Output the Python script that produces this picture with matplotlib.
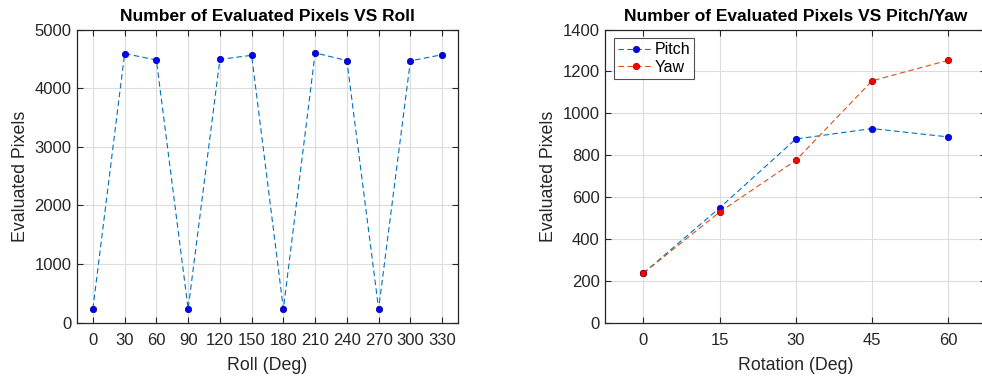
import matplotlib
matplotlib.use("Agg")
import matplotlib.pyplot as plt

plt.rcParams['font.family'] = ['Liberation Sans', 'DejaVu Sans']

roll_deg = [0, 30, 60, 90, 120, 150, 180, 210, 240, 270, 300, 330]
roll_pixels = [235, 4590, 4480, 235, 4490, 4560, 235, 4600, 4470, 235, 4465, 4570]

rot_deg = [0, 15, 30, 45, 60]
pitch_pixels = [236, 548, 877, 927, 887]
yaw_pixels = [236, 528, 775, 1155, 1253]

W, H = 982, 376
fig = plt.figure(figsize=(W / 100, H / 100), dpi=100)

grid_kw = dict(color='#dcdcdc', linewidth=0.8)
tick_color = '#262626'


def style(ax):
    ax.grid(True, **grid_kw)
    ax.set_axisbelow(True)
    for s in ax.spines.values():
        s.set_color('#262626')
        s.set_linewidth(0.9)
    ax.tick_params(direction='in', top=True, right=True, length=4,
                   labelsize=12, colors=tick_color, width=0.8)
    ax.tick_params(axis='x', pad=7.5)
    ax.tick_params(axis='y', pad=4)
    for lbl in ax.get_xticklabels() + ax.get_yticklabels():
        lbl.set_color(tick_color)


# Left panel: roll sweep
ax1 = fig.add_axes([77 / W, 1 - 322.7 / H, (458 - 77) / W, (322.7 - 29.5) / H])
ax1.plot(roll_deg, roll_pixels, linestyle='--', color='#0072BD', linewidth=0.8,
         dashes=(5, 3), marker='o', markersize=4.6, markerfacecolor='#0000ff',
         markeredgecolor='#00008b', markeredgewidth=0.5)
ax1.set_xlim(-15, 345)
ax1.set_ylim(0, 5000)
ax1.set_xticks(roll_deg)
ax1.set_yticks(range(0, 5001, 1000))
ax1.set_title('Number of Evaluated Pixels VS Roll', fontsize=12.5,
              fontweight='bold', pad=6)
ax1.set_xlabel('Roll (Deg)', fontsize=12.8, color='#262626', labelpad=6.5)
ax1.set_ylabel('Evaluated Pixels', fontsize=12.8, color='#262626', labelpad=4)
style(ax1)

# Right panel: pitch and yaw sweeps
x0 = 643.3 - 7.5 * (305 / 60)
x1 = 948.3 + 7.5 * (305 / 60)
ax2 = fig.add_axes([x0 / W, 1 - 322.7 / H, (x1 - x0) / W, (322.7 - 29.5) / H])
ax2.plot(rot_deg, pitch_pixels, linestyle='--', color='#0072BD', linewidth=0.8,
         dashes=(5, 3), marker='o', markersize=4.6, markerfacecolor='#0000ff',
         markeredgecolor='#00008b', markeredgewidth=0.5, label='Pitch')
ax2.plot(rot_deg, yaw_pixels, linestyle='--', color='#D95319', linewidth=0.8,
         dashes=(5, 3), marker='o', markersize=4.6, markerfacecolor='#ff0000',
         markeredgecolor='#8b0000', markeredgewidth=0.5, label='Yaw')
ax2.set_xlim(-7.5, 67.5)
ax2.set_ylim(0, 1400)
ax2.set_xticks(rot_deg)
ax2.set_yticks(range(0, 1401, 200))
ax2.set_title('Number of Evaluated Pixels VS Pitch/Yaw', fontsize=12.5,
              fontweight='bold', pad=6)
ax2.set_xlabel('Rotation (Deg)', fontsize=12.8, color='#262626', labelpad=6.5)
ax2.set_ylabel('Evaluated Pixels', fontsize=12.8, color='#262626', labelpad=4)
style(ax2)
leg = ax2.legend(loc='upper left', fontsize=11.5, frameon=True, fancybox=False,
                 borderpad=0.25, handlelength=2.2, handletextpad=0.1,
                 labelspacing=0.15, borderaxespad=0.55)
leg.get_frame().set_edgecolor('#262626')
leg.get_frame().set_linewidth(0.8)

fig.savefig('out.png', dpi=100)
